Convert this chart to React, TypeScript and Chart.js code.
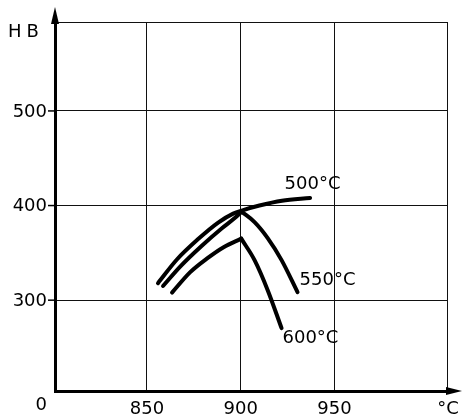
import { useEffect, useRef } from 'react';
import { Chart, registerables } from 'chart.js';
Chart.register(...registerables);

// axis extents and ticks
const xMin = 801;
const xMax = 1010;
const yMin = 204;
const yMax = 594;
const xTicks = [850, 900, 950];
const yTicks = [300, 400, 500];
const yBreakLabel = '0';
const xUnit = '°C';
const yUnit = 'HB';

// curves (tempering temperatures)
const curveLabels = ['500°C', '550°C', '600°C'];
const c500X = [855.9, 866, 877, 888, 896, 901, 910, 922, 937];
const c500Y = [318, 343, 364, 382, 391.5, 395, 400, 405, 408];
const c550RiseX = [858.6, 868, 879, 890, 897, 900.5];
const c550RiseY = [315, 336, 357, 376, 387, 393.5];
const c550FallX = [900.5, 907.4, 914.4, 921.8, 930.3];
const c550FallY = [393.5, 382.5, 365.6, 342.3, 308.5];
const c600RiseX = [863.4, 873.1, 882.3, 890.9, 900.3];
const c600RiseY = [308, 329.6, 344.4, 356, 365];
const c600FallX = [900.3, 907.4, 914.4, 921.8];
const c600FallY = [365, 342.3, 310.6, 270.4];

// label anchors in data space (left edge, vertical middle)
const labelAnchorX = [923.4, 931.4, 922.3];
const labelAnchorY = [422.7, 321, 259.8];

const pts = (xs: number[], ys: number[]) => xs.map((x, i) => ({ x, y: ys[i] }));

const FONT = '18px "DejaVu Sans"';

const overlay = {
  id: 'overlay',
  afterDraw(chart: any) {
    const { ctx, chartArea, scales } = chart;
    const xs = scales.x;
    const ys = scales.y;
    ctx.save();
    ctx.fillStyle = '#000';
    ctx.strokeStyle = '#000';
    ctx.font = FONT;

    // y tick labels + small ticks
    ctx.textAlign = 'right';
    ctx.textBaseline = 'middle';
    ctx.lineWidth = 1.5;
    yTicks.forEach((v) => {
      const y = ys.getPixelForValue(v);
      ctx.fillText(String(v), chartArea.left - 8, y + 1);
      ctx.beginPath();
      ctx.moveTo(chartArea.left - 7, y);
      ctx.lineTo(chartArea.left, y);
      ctx.stroke();
    });
    ctx.fillText(yBreakLabel, chartArea.left - 8, chartArea.bottom + 14);

    // x tick labels
    ctx.textAlign = 'center';
    ctx.textBaseline = 'top';
    xTicks.forEach((v) => {
      ctx.fillText(String(v), xs.getPixelForValue(v), chartArea.bottom + 9);
    });
    ctx.fillText(xUnit, chartArea.right + 1, chartArea.bottom + 9);

    // y unit
    ctx.textAlign = 'left';
    ctx.textBaseline = 'middle';
    (ctx as any).letterSpacing = '5px';
    ctx.fillText(yUnit, 8, 32);
    (ctx as any).letterSpacing = '0px';

    // axis arrows
    const L = chartArea.left;
    const B = chartArea.bottom;
    ctx.lineWidth = 3;
    ctx.beginPath();
    ctx.moveTo(L, chartArea.top);
    ctx.lineTo(L, 18);
    ctx.stroke();
    ctx.beginPath();
    ctx.moveTo(L, 7);
    ctx.lineTo(L - 4, 24);
    ctx.lineTo(L + 4, 24);
    ctx.closePath();
    ctx.fill();
    ctx.beginPath();
    ctx.moveTo(chartArea.right, B);
    ctx.lineTo(452, B);
    ctx.stroke();
    ctx.beginPath();
    ctx.moveTo(462, B);
    ctx.lineTo(446, B - 4);
    ctx.lineTo(446, B + 4);
    ctx.closePath();
    ctx.fill();

    // curve labels
    ctx.textAlign = 'left';
    ctx.textBaseline = 'middle';
    curveLabels.forEach((t, i) => {
      ctx.fillText(t, xs.getPixelForValue(labelAnchorX[i]), ys.getPixelForValue(labelAnchorY[i]));
    });
    ctx.restore();
  },
};

export default function App() {
  const ref = useRef<HTMLCanvasElement>(null);
  useEffect(() => {
    if (!ref.current) return;
    const ds = (xs: number[], ys: number[]) => ({
      data: pts(xs, ys),
      showLine: true,
      borderColor: '#000',
      backgroundColor: '#000',
      borderWidth: 4,
      pointRadius: 0,
      cubicInterpolationMode: 'monotone' as const,
      borderCapStyle: 'round' as const,
      borderJoinStyle: 'round' as const,
    });
    const chart = new Chart(ref.current, {
      type: 'scatter',
      data: {
        datasets: [
          ds(c500X, c500Y),
          ds(c550RiseX, c550RiseY),
          ds(c550FallX, c550FallY),
          ds(c600RiseX, c600RiseY),
          ds(c600FallX, c600FallY),
        ],
      },
      options: {
        animation: false,
        responsive: false,
        layout: { padding: { left: 55, top: 22, right: 24, bottom: 28 } },
        plugins: { legend: { display: false }, tooltip: { enabled: false } },
        scales: {
          x: {
            type: 'linear',
            min: xMin,
            max: xMax,
            afterBuildTicks: (s: any) => {
              s.ticks = [...xTicks, xMax].map((value) => ({ value }));
            },
            ticks: { display: false },
            grid: { color: '#111', lineWidth: 1, drawTicks: false },
            border: { display: true, color: '#000', width: 3 },
          },
          y: {
            type: 'linear',
            min: yMin,
            max: yMax,
            afterBuildTicks: (s: any) => {
              s.ticks = [...yTicks, yMax].map((value) => ({ value }));
            },
            ticks: { display: false },
            grid: { color: '#111', lineWidth: 1, drawTicks: false },
            border: { display: true, color: '#000', width: 3 },
          },
        },
      },
      plugins: [overlay],
    });
    return () => chart.destroy();
  }, []);
  return (
    <div style={{ position: 'absolute', left: 0, top: 0, width: 471, height: 419, background: '#fff' }}>
      <canvas ref={ref} width={471} height={419} />
    </div>
  );
}
